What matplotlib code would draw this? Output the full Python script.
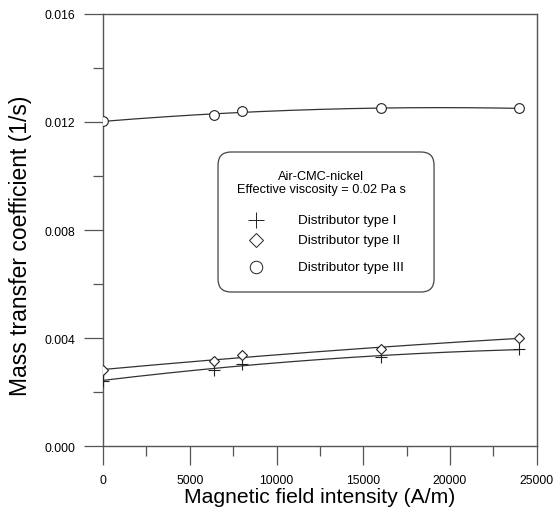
import numpy as np
import matplotlib.pyplot as plt
from matplotlib.patches import FancyBboxPatch
from matplotlib.ticker import MultipleLocator

plt.rcParams['font.family'] = ['Liberation Sans', 'DejaVu Sans']

# Data
field = [0, 6400, 8000, 16000, 24000]
k_type1 = [0.00243, 0.00284, 0.00306, 0.00331, 0.00359]
k_type2 = [0.00283, 0.00315, 0.00338, 0.00361, 0.00401]
k_type3 = [0.01202, 0.01225, 0.01240, 0.01250, 0.01250]

fig = plt.figure(figsize=(5.53, 5.10), dpi=100)
ax = fig.add_axes([0.1863, 0.1229, 0.7843, 0.8483])

xs = np.linspace(0, 24000, 200)
# fitted curves through each series (quadratic least squares)
for ys in (k_type1, k_type2, k_type3):
    c = np.polyfit(field, ys, 2)
    ax.plot(xs, np.polyval(c, xs), color='#333333', lw=0.9, zorder=2)

ax.plot(field, k_type1, ls='none', marker='+', ms=9, mew=0.8, color='#222222', zorder=3)
ax.plot(field, k_type2, ls='none', marker='D', ms=5.5, mew=0.8, mfc='white', mec='#222222', zorder=3)
ax.plot(field, k_type3, ls='none', marker='o', ms=7, mew=0.8, mfc='white', mec='#222222', zorder=3)

ax.set_xlim(0, 25000)
ax.set_ylim(0, 0.016)
ax.xaxis.set_major_locator(MultipleLocator(5000))
ax.xaxis.set_minor_locator(MultipleLocator(2500))
ax.yaxis.set_major_locator(MultipleLocator(0.004))
ax.yaxis.set_minor_locator(MultipleLocator(0.002))
ax.yaxis.set_major_formatter(plt.FuncFormatter(lambda v, p: f'{v:.3f}'))
ax.tick_params(which='major', direction='out', length=14, width=0.9, color='#555555',
               labelsize=8.8, pad=6)
ax.tick_params(which='minor', direction='out', length=7, width=0.9, color='#555555')
for s in ax.spines.values():
    s.set_color('#555555')
    s.set_linewidth(1.0)

ax.set_xlabel('Magnetic field intensity (A/m)', fontsize=15.2)
ax.xaxis.set_label_coords(0.5, -0.093)
ax.set_ylabel('Mass transfer coefficient (1/s)', fontsize=16.5)
ax.yaxis.set_label_coords(-0.164, 0.465)

# legend box
tr = ax.transAxes
def px(x, y):
    # figure pixel -> axes fraction
    return ((x - 103) / 433.7, (447.3 - y) / 432.6)

x0, y0 = px(218, 293)
x1, y1 = px(434, 153)
box = FancyBboxPatch((x0, y0), x1 - x0, y1 - y0, boxstyle='round,pad=0,rounding_size=0.03',
                     transform=tr, fc='white', ec='#444444', lw=0.9, zorder=4)
ax.add_patch(box)
cx, cy = px(321, 177)
ax.text(cx, cy, 'Air-CMC-nickel', transform=tr, ha='center', va='center', fontsize=9.2, zorder=5)
cx, cy = px(321, 190)
ax.text(cx, cy, 'Effective viscosity = 0.02 Pa s', transform=tr, ha='center', va='center',
        fontsize=9.2, zorder=5)
rows = [(221, '+', 'Distributor type I', 11), (241, 'D', 'Distributor type II', 7),
        (268, 'o', 'Distributor type III', 9)]
for yy, m, lab, ms in rows:
    mx, my = px(256, yy)
    ax.plot([mx], [my], transform=tr, ls='none', marker=m, ms=ms, mfc='white', mec='#222222',
            mew=0.7, zorder=5, clip_on=False)
    tx, ty = px(298, yy)
    ax.text(tx, ty, lab, transform=tr, ha='left', va='center', fontsize=9.7, zorder=5)

fig.savefig('out.png', dpi=100)
